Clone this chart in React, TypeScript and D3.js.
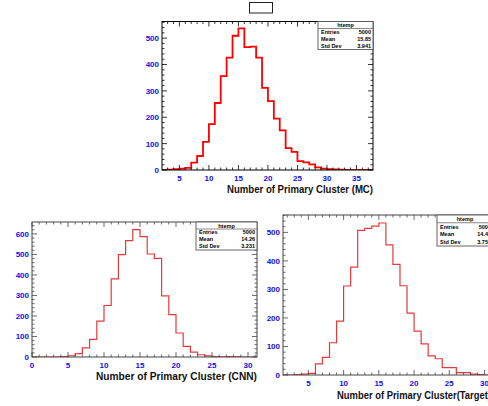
import React, { useEffect, useRef } from "react";
import * as d3 from "d3";

// counts per unit-wide bin, the first bin starts at *First
const mcFirst = 2;
const mcCounts = [0, 1, 3, 5, 8, 28, 53, 107, 174, 254, 356, 426, 509, 537, 466, 468, 426, 311, 261, 195, 150, 83, 69, 34, 29, 21, 10, 5, 3, 2, 1, 0, 0, 0, 0, 0];

const cnnFirst = 0;
const cnnCounts = [0, 0, 0, 0, 2, 6, 16, 44, 86, 175, 251, 381, 499, 567, 621, 587, 502, 481, 298, 207, 117, 52, 24, 11, 5, 2, 1, 2, 1, 0, 0, 0];

const tgtFirst = 1;
const tgtCounts = [0, 0, 1, 3, 6, 39, 62, 113, 189, 312, 378, 507, 514, 522, 533, 456, 388, 313, 217, 154, 109, 67, 57, 26, 26, 8, 8, 3, 1, 0, 0];

// stats box lines
const mcStats = [["Entries", "5000"], ["Mean", "15.85"], ["Std Dev", "3.941"]];
const cnnStats = [["Entries", "5000"], ["Mean", "14.26"], ["Std Dev", "3.231"]];
const tgtStats = [["Entries", "5000"], ["Mean", "14.41"], ["Std Dev", "3.758"]];

const FONT = "'Liberation Sans', Arial, Helvetica, sans-serif";
const BLUE = "#1010e0";

const charts = [
  {
    id: "mc", first: mcFirst, counts: mcCounts, stats: mcStats,
    title: "Number of Primary Cluster (MC)",
    xDomain: [2.05, 37.8], yMax: 563,
    left: 162, right: 373, top: 21.5, bottom: 170,
    line: "#ff0000", lineW: 1.8, frame: "#000",
    titleY: 193, titleX: 227, titleLen: 146,
    box: { x: 318, y: 21.5, w: 55, h: 28 },
  },
  {
    id: "cnn", first: cnnFirst, counts: cnnCounts, stats: cnnStats,
    title: "Number of Primary Cluster (CNN)",
    xDomain: [0, 31.25], yMax: 658,
    left: 32, right: 257, top: 222, bottom: 357,
    line: "#e23b3b", lineW: 1.2, frame: "#444",
    titleY: 380, titleX: 96, titleLen: 161,
    box: { x: 196, y: 222, w: 61, h: 28 },
  },
  {
    id: "tgt", first: tgtFirst, counts: tgtCounts, stats: tgtStats,
    title: "Number of Primary Cluster(Target)",
    xDomain: [1.4, 31.2], yMax: 561,
    left: 283, right: 493, top: 215, bottom: 375,
    line: "#e23b3b", lineW: 1.2, frame: "#444",
    titleY: 399, titleX: 337, titleLen: 154,
    box: { x: 437, y: 215, w: 56, h: 31 },
  },
];

function drawHist(svg: any, c: any) {
  const x = d3.scaleLinear().domain(c.xDomain).range([c.left, c.right]);
  const y = d3.scaleLinear().domain([0, c.yMax]).range([c.bottom, c.top]);
  const g = svg.append("g");

  g.append("clipPath").attr("id", "clip-" + c.id)
    .append("rect")
    .attr("x", c.left).attr("y", c.top)
    .attr("width", c.right - c.left).attr("height", c.bottom - c.top);

  // histogram outline
  const pts: [number, number][] = [[c.xDomain[0], 0]];
  c.counts.forEach((v: number, i: number) => {
    pts.push([c.first + i, v]);
    pts.push([c.first + i + 1, v]);
  });
  pts.push([c.xDomain[1], 0]);
  const line = d3.line<[number, number]>().x(d => x(d[0])).y(d => y(d[1]));
  g.append("path")
    .attr("d", line(pts))
    .attr("fill", "none")
    .attr("stroke", c.line)
    .attr("stroke-width", c.lineW)
    .attr("clip-path", "url(#clip-" + c.id + ")");

  // ticks on all four sides
  const tk = g.append("g").attr("stroke", c.frame).attr("stroke-width", 0.8);
  const xMinor = d3.range(Math.ceil(c.xDomain[0]), c.xDomain[1], 1);
  xMinor.forEach((v: number) => {
    const len = v % 5 === 0 ? 5 : 2.5;
    tk.append("line").attr("x1", x(v)).attr("x2", x(v)).attr("y1", c.bottom).attr("y2", c.bottom - len);
    tk.append("line").attr("x1", x(v)).attr("x2", x(v)).attr("y1", c.top).attr("y2", c.top + len);
  });
  const yMinor = d3.range(0, c.yMax, 20);
  yMinor.forEach((v: number) => {
    const len = v % 100 === 0 ? 5 : 2.5;
    tk.append("line").attr("y1", y(v)).attr("y2", y(v)).attr("x1", c.left).attr("x2", c.left + len);
    tk.append("line").attr("y1", y(v)).attr("y2", y(v)).attr("x1", c.right).attr("x2", c.right - len);
  });

  // frame
  g.append("rect")
    .attr("x", c.left).attr("y", c.top)
    .attr("width", c.right - c.left).attr("height", c.bottom - c.top)
    .attr("fill", "none").attr("stroke", c.frame).attr("stroke-width", 1);

  // tick labels
  const xMajor = xMinor.filter((v: number) => v % 5 === 0);
  g.selectAll(".xl").data(xMajor).enter().append("text")
    .attr("x", (d: number) => x(d)).attr("y", c.bottom + 10.5)
    .attr("text-anchor", "middle")
    .attr("font-family", FONT).attr("font-weight", "bold").attr("font-size", 8)
    .attr("fill", BLUE)
    .text((d: number) => d);
  const yMajor = yMinor.filter((v: number) => v % 100 === 0);
  g.selectAll(".yl").data(yMajor).enter().append("text")
    .attr("x", c.left - 3).attr("y", (d: number) => y(d) + 3)
    .attr("text-anchor", "end")
    .attr("font-family", FONT).attr("font-weight", "bold").attr("font-size", 8)
    .attr("fill", BLUE)
    .text((d: number) => d);

  // axis title
  g.append("text")
    .attr("x", c.titleX).attr("y", c.titleY)
    .attr("font-family", FONT).attr("font-weight", "bold").attr("font-size", 11.5)
    .attr("textLength", c.titleLen).attr("lengthAdjust", "spacingAndGlyphs")
    .attr("fill", "#111")
    .text(c.title);

  // stats box
  const b = c.box;
  const sb = g.append("g");
  sb.append("rect").attr("x", b.x).attr("y", b.y).attr("width", b.w).attr("height", b.h)
    .attr("fill", "#fff").attr("stroke", "#555").attr("stroke-width", 0.9);
  const rowH = b.h / 4;
  sb.append("line").attr("x1", b.x).attr("x2", b.x + b.w)
    .attr("y1", b.y + rowH).attr("y2", b.y + rowH)
    .attr("stroke", "#555").attr("stroke-width", 0.7);
  sb.append("text").attr("x", b.x + b.w / 2).attr("y", b.y + rowH - 1.5)
    .attr("text-anchor", "middle")
    .attr("font-family", FONT).attr("font-weight", "bold").attr("font-size", 5.5)
    .text("htemp");
  c.stats.forEach((s: string[], i: number) => {
    const yy = b.y + rowH * (i + 2) - 1.8;
    sb.append("text").attr("x", b.x + 3).attr("y", yy)
      .attr("font-family", FONT).attr("font-weight", "bold").attr("font-size", 5.5)
      .text(s[0]);
    sb.append("text").attr("x", b.x + b.w - 2).attr("y", yy)
      .attr("text-anchor", "end")
      .attr("font-family", FONT).attr("font-weight", "bold").attr("font-size", 5.5)
      .text(s[1]);
  });
}

export default function App() {
  const ref = useRef<SVGSVGElement>(null);

  useEffect(() => {
    const svg = d3.select(ref.current);
    svg.selectAll("*").remove();
    svg.append("rect").attr("width", 488).attr("height", 406).attr("fill", "#fff");
    // empty title box on top
    svg.append("rect").attr("x", 249.5).attr("y", 2.5).attr("width", 23).attr("height", 10.5)
      .attr("fill", "#fff").attr("stroke", "#222").attr("stroke-width", 1);
    charts.forEach(c => drawHist(svg, c));
  }, []);

  return (
    <svg ref={ref} width={488} height={406}
      style={{ position: "absolute", left: 0, top: 0, display: "block" }} />
  );
}
